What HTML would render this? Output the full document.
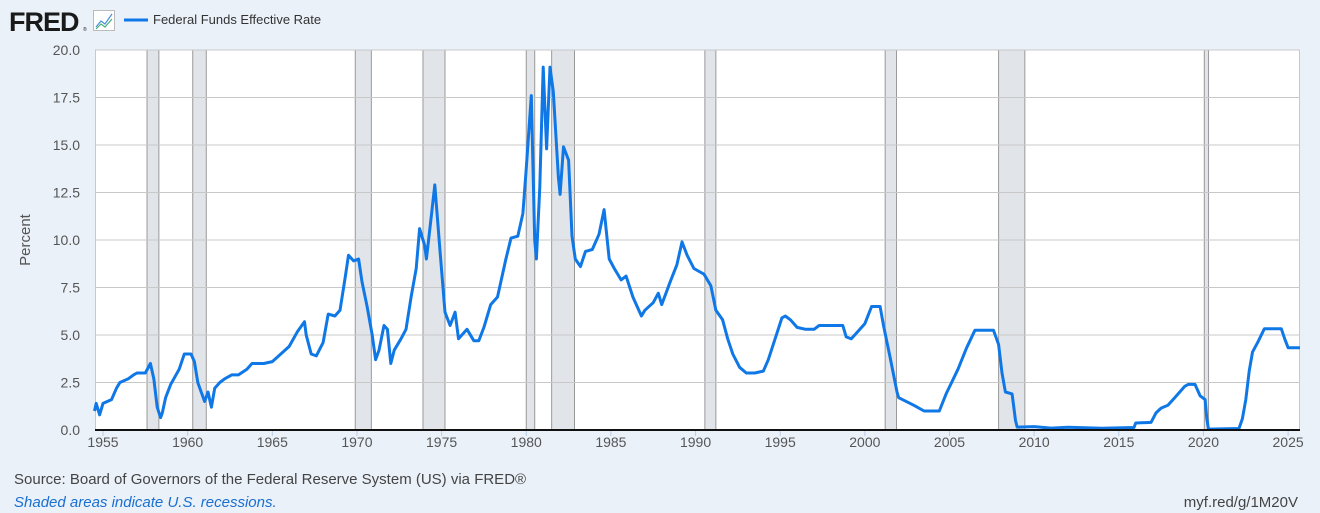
<!DOCTYPE html>
<html><head><meta charset="utf-8"><style>
html,body{margin:0;padding:0;background:#eaf1f9;}
svg{display:block;font-family:"Liberation Sans",sans-serif;}
</style></head><body>
<svg id="s" width="1320" height="513" xmlns="http://www.w3.org/2000/svg">
<rect width="1320" height="513" fill="#eaf1f9"/>
<text x="9" y="31" font-size="27" font-weight="bold" fill="#1a1a1a" letter-spacing="-1">FRED</text>
<text x="83" y="31" font-size="5" fill="#1a1a1a">®</text>
<rect x="93.5" y="10.5" width="21" height="20" fill="#fff" stroke="#bbb"/>
<polyline points="96,27 101,21 105,24 112,14" fill="none" stroke="#4a90d9" stroke-width="1.2"/>
<polyline points="96,29 101,24 105,27 112,19" fill="none" stroke="#4bb07a" stroke-width="1.2"/>
<line x1="124" y1="20" x2="148" y2="20" stroke="#0f78e6" stroke-width="3"/>
<text x="153" y="24" font-size="13" fill="#333">Federal Funds Effective Rate</text>
<rect x="95" y="50" width="1205" height="380" fill="#fff"/>
<g id="rec" fill="#e1e5ea" stroke="#999" stroke-width="1"></g>
<g id="grid" stroke="#c8c8c8" stroke-width="1"></g>
<g id="yl" font-size="14" fill="#555" text-anchor="end"></g>
<g id="xl" font-size="14" fill="#555" text-anchor="middle"></g>
<path id="ln" fill="none" stroke="#0f78e6" stroke-width="3" stroke-linejoin="round"/>
<line x1="95" y1="430" x2="1300" y2="430" stroke="#111" stroke-width="2"/>
<text x="14" y="484" font-size="15" fill="#444">Source: Board of Governors of the Federal Reserve System (US) via FRED®</text>
<text x="14" y="507" font-size="15" fill="#1a6fd0" font-style="italic">Shaded areas indicate U.S. recessions.</text>
<text x="1298" y="507" font-size="15" fill="#444" text-anchor="end">myf.red/g/1M20V</text>
<text x="30" y="240" font-size="15" fill="#555" text-anchor="middle" transform="rotate(-90 30 240)">Percent</text>
</svg>
<script>
var NS="http://www.w3.org/2000/svg";
function X(t){return 103+(t-1955)*16.93;}
function Y(v){return 430-v*19;}
function el(p,n,a,txt){var e=document.createElementNS(NS,n);for(var k in a)e.setAttribute(k,a[k]);if(txt)e.textContent=txt;document.getElementById(p).appendChild(e);}
var recs=[[1957.6,1958.3],[1960.3,1961.1],[1969.9,1970.85],[1973.9,1975.2],[1980.0,1980.5],[1981.5,1982.85],[1990.55,1991.2],[2001.2,2001.87],[2007.9,2009.45],[2020.05,2020.3]];
recs.forEach(function(r){el("rec","rect",{x:X(r[0]),y:50,width:X(r[1])-X(r[0]),height:380});});
for(var i=0;i<=8;i++){var v=i*2.5,y=Y(v);if(i>0)el("grid","line",{x1:95,x2:1300,y1:y,y2:y});el("yl","text",{x:80,y:y+5},v.toFixed(1));}
el("grid","line",{x1:95.5,x2:95.5,y1:50,y2:430});
el("grid","line",{x1:1299.5,x2:1299.5,y1:50,y2:430});
for(var yr=1955;yr<=2025;yr+=5){var x=X(yr);el("grid","line",{x1:x,x2:x,y1:431,y2:436,stroke:"#b8cce4"});el("xl","text",{x:x,y:447},yr);}
var d=[1954.5,1.0,1954.6,1.4,1954.8,0.8,1955.0,1.4,1955.5,1.6,1955.8,2.2,1956.0,2.5,1956.5,2.7,1956.8,2.9,1957.0,3.0,1957.5,3.0,1957.8,3.5,1958.0,2.7,1958.2,1.2,1958.4,0.65,1958.5,0.9,1958.7,1.7,1959.0,2.4,1959.5,3.2,1959.8,4.0,1960.2,4.0,1960.4,3.6,1960.6,2.5,1960.8,2.0,1961.0,1.5,1961.2,2.0,1961.4,1.2,1961.6,2.2,1961.9,2.5,1962.2,2.7,1962.6,2.9,1963.0,2.9,1963.5,3.2,1963.8,3.5,1964.5,3.5,1965.0,3.6,1965.5,4.0,1966.0,4.4,1966.5,5.2,1966.9,5.7,1967.0,5.0,1967.3,4.0,1967.6,3.9,1968.0,4.6,1968.3,6.1,1968.7,6.0,1969.0,6.3,1969.3,8.0,1969.5,9.2,1969.8,8.9,1970.1,9.0,1970.3,7.8,1970.6,6.5,1970.9,5.0,1971.1,3.7,1971.3,4.2,1971.6,5.5,1971.8,5.3,1972.0,3.5,1972.2,4.2,1972.6,4.8,1972.9,5.3,1973.2,7.0,1973.5,8.5,1973.7,10.6,1974.0,9.7,1974.1,9.0,1974.4,11.3,1974.6,12.9,1974.9,9.5,1975.2,6.2,1975.5,5.5,1975.8,6.2,1976.0,4.8,1976.5,5.3,1976.9,4.7,1977.2,4.7,1977.5,5.4,1977.9,6.6,1978.3,7.0,1978.8,9.0,1979.1,10.1,1979.5,10.2,1979.8,11.4,1980.0,13.8,1980.3,17.6,1980.5,10.0,1980.6,9.0,1980.8,12.8,1981.0,19.1,1981.2,14.8,1981.4,19.1,1981.6,17.8,1981.9,13.3,1982.0,12.4,1982.2,14.9,1982.5,14.2,1982.7,10.2,1982.9,9.0,1983.2,8.6,1983.5,9.4,1983.9,9.5,1984.3,10.3,1984.6,11.6,1984.9,9.0,1985.2,8.5,1985.6,7.9,1985.9,8.1,1986.3,7.0,1986.8,6.0,1987.0,6.3,1987.5,6.7,1987.8,7.2,1988.0,6.6,1988.5,7.8,1988.9,8.7,1989.2,9.9,1989.5,9.2,1989.9,8.5,1990.5,8.2,1990.9,7.6,1991.2,6.3,1991.6,5.8,1991.9,4.8,1992.2,4.0,1992.6,3.3,1993.0,3.0,1993.5,3.0,1994.0,3.1,1994.3,3.7,1994.7,4.8,1995.1,5.9,1995.3,6.0,1995.6,5.8,1996.0,5.4,1996.5,5.3,1997.0,5.3,1997.3,5.5,1998.0,5.5,1998.7,5.5,1998.9,4.9,1999.2,4.8,1999.6,5.2,2000.0,5.6,2000.4,6.5,2000.9,6.5,2001.1,5.5,2001.5,3.8,2001.9,2.0,2002.0,1.7,2002.9,1.3,2003.5,1.0,2004.4,1.0,2004.8,1.9,2005.5,3.2,2006.0,4.3,2006.5,5.25,2007.6,5.25,2007.9,4.5,2008.1,3.0,2008.3,2.0,2008.7,1.9,2008.9,0.5,2009.0,0.15,2010,0.18,2011,0.1,2012,0.14,2014,0.09,2015.9,0.13,2016.0,0.37,2016.9,0.4,2017.2,0.9,2017.5,1.15,2017.9,1.3,2018.3,1.7,2018.9,2.3,2019.1,2.4,2019.5,2.4,2019.8,1.8,2020.1,1.6,2020.2,0.6,2020.3,0.05,2022.1,0.08,2022.3,0.6,2022.5,1.6,2022.7,3.1,2022.9,4.1,2023.2,4.6,2023.6,5.33,2024.6,5.33,2024.8,4.8,2025.0,4.33,2025.7,4.33];
var p="";for(var i=0;i<d.length;i+=2){p+=(i?"L":"M")+X(d[i]).toFixed(1)+","+Y(d[i+1]).toFixed(1);}
document.getElementById("ln").setAttribute("d",p);
</script>
</body></html>
